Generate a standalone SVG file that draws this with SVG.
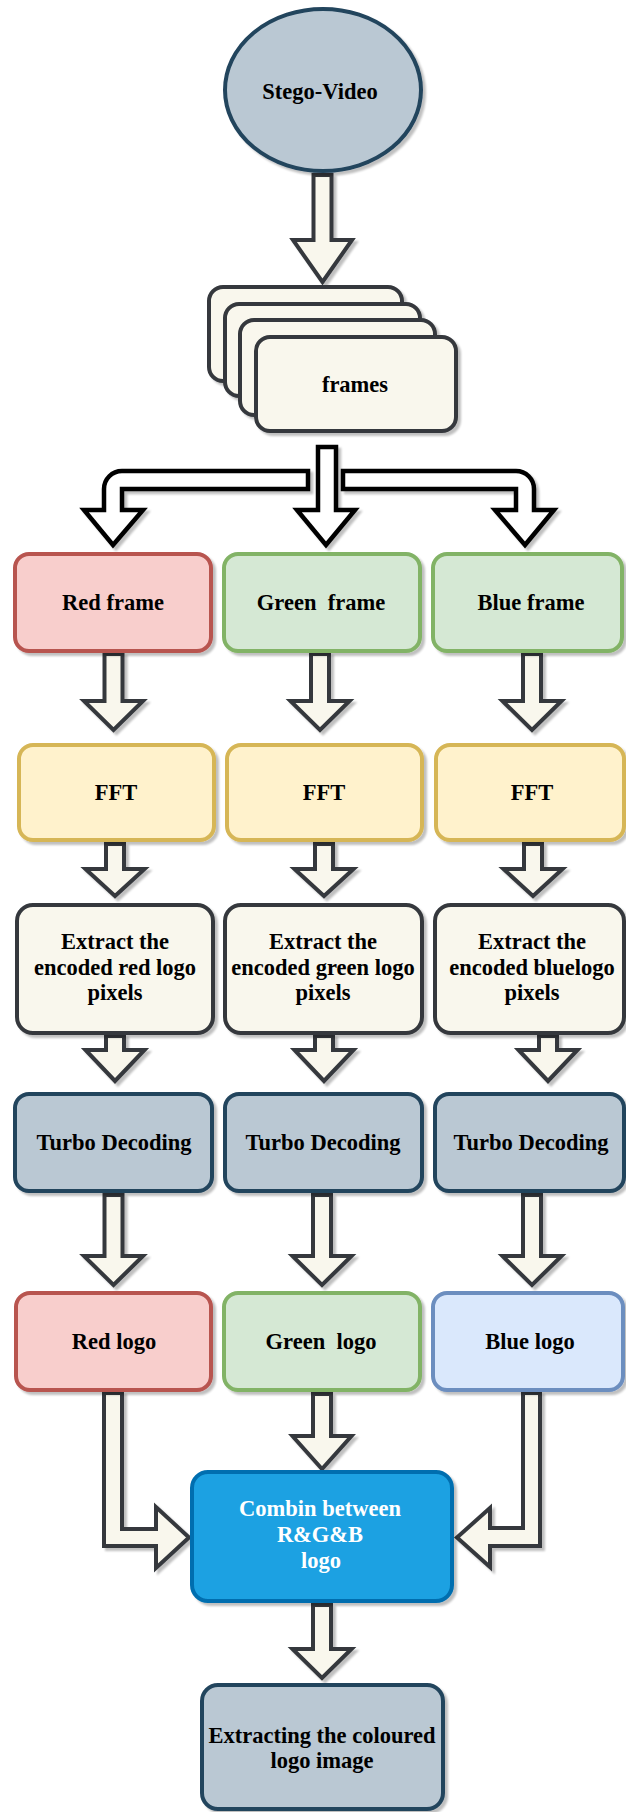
<svg xmlns="http://www.w3.org/2000/svg" width="626" height="1812" viewBox="0 0 626 1812">
<defs>
<filter id="sh" x="-10%" y="-10%" width="130%" height="130%">
<feGaussianBlur in="SourceAlpha" stdDeviation="1.2"/>
<feOffset dx="3" dy="3"/>
<feComponentTransfer><feFuncA type="linear" slope="0.25"/></feComponentTransfer>
<feMerge><feMergeNode/><feMergeNode in="SourceGraphic"/></feMerge>
</filter>
</defs>
<style>
.box{stroke-width:4;filter:url(#sh)}
.red{fill:#f8cecc;stroke:#b85450}
.grn{fill:#d5e8d4;stroke:#82b366}
.yel{fill:#fff2cc;stroke:#d6b656}
.wht{fill:#f9f7ed;stroke:#36393d}
.gry{fill:#bac8d3;stroke:#23445d}
.blu{fill:#dae8fc;stroke:#6c8ebf}
.cyn{fill:#1ba1e2;stroke:#006eaf}
.arr{fill:#f9f7ed;stroke:#36393d;stroke-width:4;stroke-linejoin:miter;filter:url(#sh)}
.ark{fill:#ffffff;stroke:#000000;stroke-width:4.5;stroke-linejoin:miter;filter:url(#sh)}
text{font-family:"Liberation Serif","Times New Roman",serif;font-weight:bold;font-size:22.5px;text-anchor:middle;fill:#000}
.wt{fill:#ffffff}
.pre{white-space:pre}
</style>
<rect width="626" height="1812" fill="#ffffff"/>

<g id="connectors">
<polygon class="arr" points="313.5,175 331.5,175 331.5,240 352,240 322.5,282 293,240 313.5,240"/>
<path class="ark" d="M308,471 H122 A18,18 0 0 0 104,489 V510 H84 L113,545 L143,510 H122 V489 H308 Z"/>
<path class="ark" d="M318,447 H336 V510 H355 L326,545 L297,510 H318 Z"/>
<path class="ark" d="M343,471 H516 A18,18 0 0 1 534,489 V510 H554 L525,545 L495,510 H516 V489 H343 Z"/>

<polygon class="arr" points="104.5,654 122.5,654 122.5,701 143,701 113.5,730 84,701 104.5,701"/>
<polygon class="arr" points="311,654 329,654 329,701 349.5,701 320,730 290.5,701 311,701"/>
<polygon class="arr" points="523,654 541,654 541,701 561.5,701 532,730 502.5,701 523,701"/>

<polygon class="arr" points="106,844 124,844 124,869 144.5,869 115,896 85.5,869 106,869"/>
<polygon class="arr" points="315,844 333,844 333,869 353.5,869 324,896 294.5,869 315,869"/>
<polygon class="arr" points="524,844 542,844 542,869 562.5,869 533,896 503.5,869 524,869"/>

<polygon class="arr" points="106,1036 124,1036 124,1050 144.5,1050 115,1081 85.5,1050 106,1050"/>
<polygon class="arr" points="315,1036 333,1036 333,1050 353.5,1050 324,1081 294.5,1050 315,1050"/>
<polygon class="arr" points="539,1036 557,1036 557,1050 577.5,1050 548,1081 518.5,1050 539,1050"/>

<polygon class="arr" points="104.5,1195 122.5,1195 122.5,1256 143,1256 113.5,1285 84,1256 104.5,1256"/>
<polygon class="arr" points="313,1195 331,1195 331,1256 351.5,1256 322,1285 292.5,1256 313,1256"/>
<polygon class="arr" points="523,1195 541,1195 541,1256 561.5,1256 532,1285 502.5,1256 523,1256"/>

<polygon class="arr" points="104,1393 122,1393 122,1529 156,1529 156,1507 189,1537.5 156,1568 156,1546 104,1546"/>
<polygon class="arr" points="313,1394 331,1394 331,1436 351.5,1436 322,1469 292.5,1436 313,1436"/>
<polygon class="arr" points="523,1393 540,1393 540,1546 490,1546 490,1567 457,1537.5 490,1508 490,1528 523,1528"/>

<polygon class="arr" points="313,1605 331,1605 331,1649 351.5,1649 322,1678 292.5,1649 313,1649"/>
</g>

<g id="stego-video">
<ellipse class="box gry" cx="323" cy="90" rx="98" ry="81"/>
<text x="320" y="99">Stego-Video</text>
</g>

<g id="frames">
<rect class="box wht" x="209" y="287" width="193" height="94" rx="14"/>
<rect class="box wht" x="225" y="304" width="195" height="92" rx="14"/>
<rect class="box wht" x="240" y="320" width="195" height="95" rx="14"/>
<rect class="box wht" x="256" y="337" width="200" height="94" rx="14"/>
<text x="355" y="392">frames</text>
</g>

<g id="red-frame">
<rect class="box red" x="15" y="554" width="196" height="97" rx="14"/>
<text x="113" y="610">Red frame</text>
</g>
<g id="green-frame">
<rect class="box grn" x="224" y="554" width="196" height="97" rx="14"/>
<text class="pre" x="321" y="610">Green  frame</text>
</g>
<g id="blue-frame">
<rect class="box grn" x="433" y="554" width="189" height="97" rx="14"/>
<text x="531" y="610">Blue frame</text>
</g>

<g id="fft-red">
<rect class="box yel" x="19" y="745" width="195" height="95" rx="14"/>
<text x="116" y="800">FFT</text>
</g>
<g id="fft-green">
<rect class="box yel" x="227" y="745" width="195" height="95" rx="14"/>
<text x="324" y="800">FFT</text>
</g>
<g id="fft-blue">
<rect class="box yel" x="436" y="745" width="188" height="95" rx="14"/>
<text x="532" y="800">FFT</text>
</g>

<g id="extract-red">
<rect class="box wht" x="17" y="905" width="196" height="128" rx="16"/>
<text x="115" y="949">Extract the</text>
<text x="115" y="975">encoded red logo</text>
<text x="115" y="1000">pixels</text>
</g>
<g id="extract-green">
<rect class="box wht" x="225" y="905" width="197" height="128" rx="16"/>
<text x="323" y="949">Extract the</text>
<text x="323" y="975">encoded green logo</text>
<text x="323" y="1000">pixels</text>
</g>
<g id="extract-blue">
<rect class="box wht" x="435" y="905" width="189" height="128" rx="16"/>
<text x="532" y="949">Extract the</text>
<text x="532" y="975">encoded bluelogo</text>
<text x="532" y="1000">pixels</text>
</g>

<g id="turbo-red">
<rect class="box gry" x="15" y="1094" width="197" height="97" rx="14"/>
<text x="114" y="1150">Turbo Decoding</text>
</g>
<g id="turbo-green">
<rect class="box gry" x="225" y="1094" width="197" height="97" rx="14"/>
<text x="323" y="1150">Turbo Decoding</text>
</g>
<g id="turbo-blue">
<rect class="box gry" x="435" y="1094" width="189" height="97" rx="14"/>
<text x="531" y="1150">Turbo Decoding</text>
</g>

<g id="red-logo">
<rect class="box red" x="16" y="1293" width="195" height="97" rx="14"/>
<text x="114" y="1349">Red logo</text>
</g>
<g id="green-logo">
<rect class="box grn" x="224" y="1293" width="196" height="97" rx="14"/>
<text class="pre" x="321" y="1349">Green  logo</text>
</g>
<g id="blue-logo">
<rect class="box blu" x="433" y="1293" width="190" height="97" rx="14"/>
<text x="530" y="1349">Blue logo</text>
</g>

<g id="combine">
<rect class="box cyn" x="192" y="1472" width="260" height="129" rx="16"/>
<text class="wt" x="320" y="1516">Combin between</text>
<text class="wt" x="320" y="1542">R&amp;G&amp;B</text>
<text class="wt" x="321" y="1568">logo</text>
</g>

<g id="extracting">
<rect class="box gry" x="202" y="1685" width="241" height="124" rx="16"/>
<text x="322" y="1743">Extracting the coloured</text>
<text x="322" y="1768">logo image</text>
</g>
</svg>
